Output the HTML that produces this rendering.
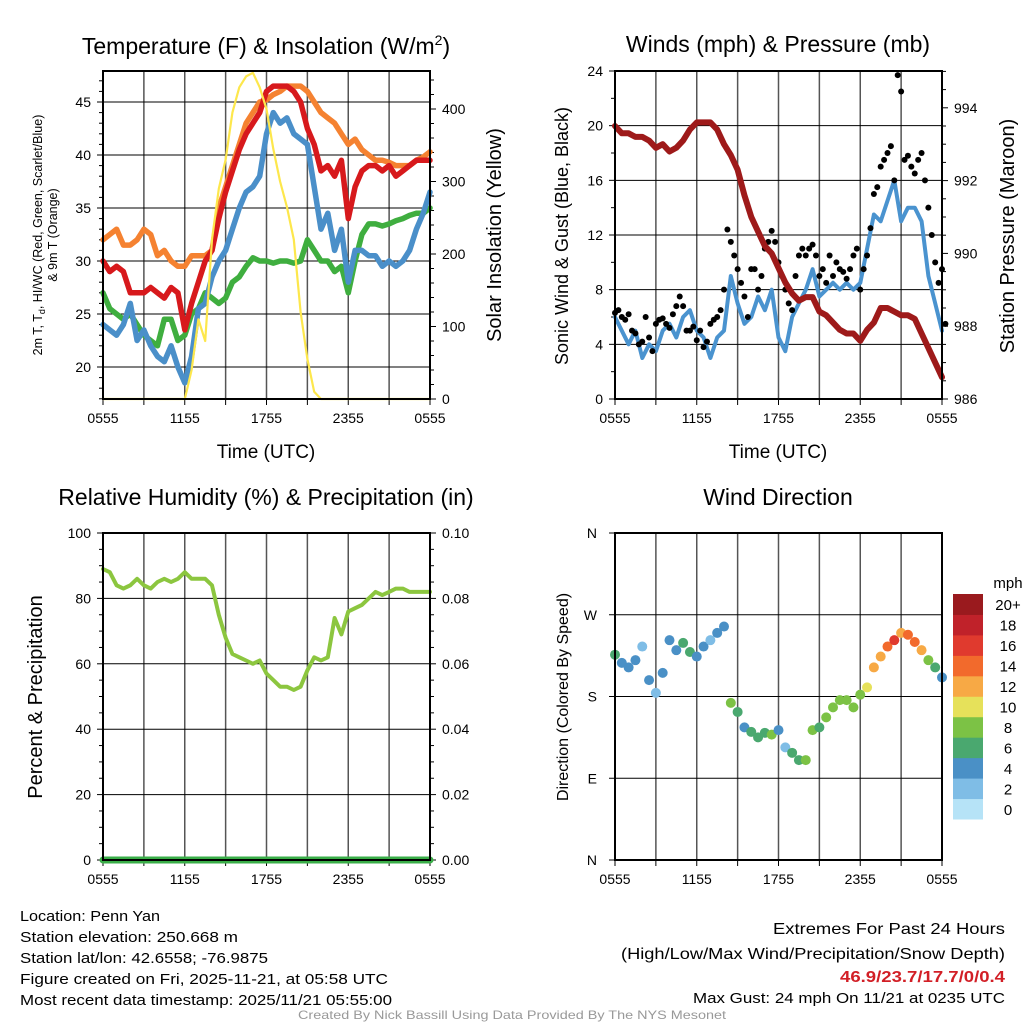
<!DOCTYPE html>
<html><head><meta charset="utf-8"><style>
html,body{margin:0;padding:0;background:#fff;}
svg{display:block;font-family:"Liberation Sans",sans-serif;}
</style></head><body>
<svg id="chart" width="1024" height="1024" viewBox="0 0 1024 1024" xmlns="http://www.w3.org/2000/svg">
<rect width="1024" height="1024" fill="#fff"/>
<g id="root"></g>
</svg>
<script>
// ---- data (half-hour resolution, t = 0..24 h from 0555 UTC) ----
const timeTicks = ["0555","1155","1755","2355","0555"];
const tempRed = [30,29,29.5,29,27,27,27,27.5,27,26.5,27.5,27,23.5,26,28,30,31,34,36.5,38.5,40.5,42,43,44,46,46.5,46.5,46.5,46,45,42.5,41,38.5,39,38,39.5,34,37,38.5,39,39,38.5,39,38,38.5,39,39.5,39.5,39.5];
const tempOrange = [32,32.5,33,31.5,31.5,32,33,32.5,30.5,31,30,29.5,29.5,30.5,30.5,30.5,31,35,37,39,41,43,44,45,45.2,45.7,46,46.5,46.5,46.5,46,45,44,43.5,43,42,41,41.5,40.5,40,39.5,39.5,39.3,39,39,39,39.5,39.8,40.3];
const tempBlue = [24,23.5,23,24,26,22.5,23.5,22,21,20.5,22,20,18.5,21,25.5,26,28.5,30,31,33,35,36.5,37,38,42,44,43,43.5,42,41.5,41,37,33,34.5,31,33,28,31,31,30.5,30.5,29.5,30,29.5,30,31,33,34.5,36.5];
const tempGreen = [27,25.5,25,24.5,25,24,23,22.5,22,24.5,24.5,22.5,23,25,25.5,27,26.5,26,26.5,28,28.5,29.5,30.3,30,30,29.8,30,30,29.8,30,32,31,30,30,29,29.5,27,30,32.5,33.5,33.5,33.3,33.5,33.8,34,34.3,34.5,34.5,35];
const solar = [0,0,0,0,0,0,0,0,0,0,0,0,0,40,110,80,220,290,330,395,430,445,450,430,400,345,300,265,220,120,55,10,0,0,0,0,0,0,0,0,0,0,0,0,0,0,0,0,0];
const pressure = [993.5,993.3,993.3,993.2,993.2,993.1,992.9,993.0,992.8,992.9,993.1,993.4,993.6,993.6,993.6,993.4,993.0,992.7,992.3,991.6,991.0,990.6,990.2,990.0,989.6,989.2,988.9,988.7,988.8,988.8,988.4,988.3,988.1,987.9,987.8,987.8,987.6,987.9,988.1,988.5,988.5,988.4,988.3,988.3,988.2,987.8,987.4,987.0,986.6];
const windSpeed = [6,5,4,5,3,4,3.5,5,5.5,4.5,6,6.5,5,4.5,3,4.5,5,9,7,5.5,6,7.5,6.5,8,4.5,3.5,6,7,8,9.5,7.5,8,8.5,8,8.5,8,8.5,11,13.5,13,14.5,16,13,14,14,13,9,7,5];
// gusts at quarter-hour resolution
const gusts = [6.3,6.5,6.0,5.8,6.2,5.0,4.8,4.0,4.2,6.0,4.5,3.5,5.5,5.8,5.9,5.5,5.2,6.2,6.8,7.5,6.8,5.0,5.0,5.3,4.3,5.0,3.8,4.2,5.5,5.8,6.0,6.5,8.0,12.4,11.5,10.5,9.5,8.5,7.5,6.0,9.5,9.5,8.0,9.0,11.0,11.5,12.3,11.5,10.0,9.0,8.0,7.0,6.5,9.0,10.5,11.0,10.5,11.0,11.3,10.5,9.0,9.5,8.5,10.5,9.0,10.0,9.5,9.3,8.8,9.5,10.5,11.0,8.0,9.5,10.5,12.5,15.0,15.5,17.0,17.5,18.0,18.5,16.0,23.7,22.5,17.5,17.8,17.0,16.5,17.5,18.0,16.0,14.0,12.0,10.0,8.5,9.5,5.5];
const rh = [89,88,84,83,84,86,84,83,85,86,85,86,88,86,86,86,84,75,68,63,62,61,60,61,57,55,53,53,52,53,58,62,61,62,74,69,76,77,78,80,82,81,82,83,83,82,82,82,82];
const precip = [0,0,0,0,0,0,0,0,0,0,0,0,0,0,0,0,0,0,0,0,0,0,0,0,0,0,0,0,0,0,0,0,0,0,0,0,0,0,0,0,0,0,0,0,0,0,0,0,0];
const windDir = [226,217,212,220,235,198,184,206,242,231,239,229,224,235,242,250,257,173,163,146,141,135,140,138,143,124,118,110,110,143,146,157,168,176,176,168,182,190,212,224,235,242,250,248,240,231,220,212,201];
const colorBins = ["#b6e3f7","#7fbde6","#4a90c6","#4aa86f","#7cc245","#e6e15a","#f7a945","#f26a2c","#e03a2e","#c0222a","#9a1a1e"];
const colorLabels = ["0","2","4","6","8","10","12","14","16","18","20+"];

const NS="http://www.w3.org/2000/svg";
const root=document.getElementById('root');
function el(tag,attrs,parent){const e=document.createElementNS(NS,tag);for(const k in attrs)e.setAttribute(k,attrs[k]);(parent||root).appendChild(e);return e;}
function txt(s,attrs,parent){const e=el('text',attrs,parent);e.textContent=s;return e;}

function makePanel(name,x0,y0,x1,y1){
  const g=el('g',{});
  
  
  const xs=t=>x0+(t/24)*(x1-x0);
  for(let i=1;i<8;i++){const x=xs(i*3);const l=el('line',{x1:x,y1:y0,x2:x,y2:y1,stroke:'#555','stroke-width':1.5},g);}
  for(let i=0;i<=8;i++){const x=xs(i*3);el('line',{x1:x,y1:y1,x2:x,y2:y1+6,stroke:'#000','stroke-width':1},g);}
  timeTicks.forEach((s,i)=>{const t=txt(s,{x:xs(i*6),y:y1+24,'font-size':14,'text-anchor':'middle'},g);});
  return {g,xs,x0,y0,x1,y1};
}
function hgrid(p,yv){const l=el('line',{x1:p.x0,y1:yv,x2:p.x1,y2:yv,stroke:'#000','stroke-width':1},p.g);}
function frame(p){const r=el('rect',{x:p.x0,y:p.y0,width:p.x1-p.x0,height:p.y1-p.y0,fill:'none',stroke:'#000','stroke-width':2},p.g);}
function leftAxis(p,ys,min,max,major,minor,fmt){
  for(let v=min;v<=max+1e-9;v+=minor){const y=ys(v);if(y<p.y0-0.5||y>p.y1+0.5)continue;const isM=Math.abs(v/major-Math.round(v/major))<1e-6;el('line',{x1:p.x0,y1:y,x2:p.x0-(isM?6:4),y2:y,stroke:'#000','stroke-width':1},p.g);}
  for(let v=Math.ceil(min/major)*major;v<=max+1e-9;v+=major){const y=ys(v);if(y<p.y0-1||y>p.y1+1)continue;const t=txt(fmt(v),{x:p.x0-12,y:y+5,'font-size':14,'text-anchor':'end'},p.g);}
}
function rightAxis(p,ys,min,max,major,minor,fmt){
  for(let v=min;v<=max+1e-9;v+=minor){const y=ys(v);if(y<p.y0-0.5||y>p.y1+0.5)continue;const isM=Math.abs(v/major-Math.round(v/major))<1e-6;el('line',{x1:p.x1,y1:y,x2:p.x1+(isM?6:4),y2:y,stroke:'#000','stroke-width':1},p.g);}
  for(let v=Math.ceil(min/major)*major;v<=max+1e-9;v+=major){const y=ys(v);if(y<p.y0-1||y>p.y1+1)continue;const t=txt(fmt(v),{x:p.x1+12,y:y+5,'font-size':14,'text-anchor':'start'},p.g);}
}
function line(p,arr,step,ys,color,w,name){
  const pts=arr.map((v,i)=>p.xs(i*step).toFixed(1)+','+ys(v).toFixed(1)).join(' ');
  const l=el('polyline',{points:pts,fill:'none',stroke:color,'stroke-width':w,'stroke-linejoin':'round','stroke-linecap':'round'},p.g);
  
  
  return l;
}
function vtitle(s,x,y,size,name){const t=txt(s,{x:0,y:0,'font-size':size,'text-anchor':'middle',transform:`translate(${x},${y}) rotate(-90)`});return t;}

// ===== Panel 1: Temperature =====
{
const p=makePanel('temperature-panel',103,71,430,399);
const yT=v=>367-(v-20)*10.6;
const yS=v=>399-v*0.725;
[20,25,30,35,40,45].forEach(v=>hgrid(p,yT(v)));
leftAxis(p,yT,17,47,5,1,v=>String(v));
rightAxis(p,yS,0,440,100,20,v=>String(v));
line(p,tempGreen,0.5,yT,'#3fae3f',5.5,'dewpoint-line');
line(p,tempBlue,0.5,yT,'#4a8fc9',5.5,'windchill-line');
line(p,tempOrange,0.5,yT,'#f58231',5.5,'9m-temp-line');
line(p,tempRed,0.5,yT,'#d7191c',5.5,'2m-temp-line');
line(p,solar,0.5,yS,'#fde74c',2.2,'solar-insolation-line');
frame(p);
const t=txt('',{x:266,y:54,'font-size':23,'text-anchor':'middle'});


t.innerHTML='Temperature (F) &amp; Insolation (W/m<tspan dy="-9" font-size="14">2</tspan><tspan dy="9">)</tspan>';
const xt=txt('Time (UTC)',{x:266,y:458,'font-size':19,'text-anchor':'middle'});


const y1=txt('',{x:0,y:0,'font-size':12.5,'text-anchor':'middle',transform:'translate(42,235) rotate(-90)'});


y1.innerHTML='2m T, T<tspan dy="3" font-size="9">d</tspan><tspan dy="-3">, HI/WC (Red, Green, Scarlet/Blue)</tspan>';
vtitle('& 9m T (Orange)',57,235,12.5,'temperature-y-axis-title-line2');
vtitle('Solar Insolation (Yellow)',501,235,20,'solar-y-axis-title');
}

// ===== Panel 2: Winds =====
{
const p=makePanel('winds-panel',615,71,942,399);
const yW=v=>399-v*(328/24);
const yP=v=>399-(v-986)*36.4;
[4,8,12,16,20].forEach(v=>hgrid(p,yW(v)));
leftAxis(p,yW,0,24,4,2,v=>String(v));
rightAxis(p,yP,986,995,2,0.5,v=>String(v));
line(p,windSpeed,0.5,yW,'#4a93cf',4,'sonic-wind-line');
gusts.forEach((v,i)=>{const c=el('circle',{cx:p.xs(i*0.25),cy:yW(v),r:3,fill:'#000'},p.g);});
line(p,pressure,0.5,yP,'#9e1a1a',6,'station-pressure-line');
frame(p);
const t=txt('Winds (mph) & Pressure (mb)',{x:778,y:52,'font-size':23,'text-anchor':'middle'});


const xt=txt('Time (UTC)',{x:778,y:458,'font-size':19,'text-anchor':'middle'});


vtitle('Sonic Wind & Gust (Blue, Black)',568,236,18,'wind-y-axis-title');
vtitle('Station Pressure (Maroon)',1014,236,20,'pressure-y-axis-title');
}

// ===== Panel 3: RH =====
{
const p=makePanel('humidity-panel',103,533,430,860);
const yR=v=>860-v*3.27;
const yPr=v=>860-v*3270;
[20,40,60,80].forEach(v=>hgrid(p,yR(v)));
leftAxis(p,yR,0,100,20,5,v=>String(v));
rightAxis(p,yPr,0,0.1,0.02,0.005,v=>v.toFixed(2));
line(p,rh,0.5,yR,'#8cc63f',4,'relative-humidity-line');
line(p,precip,0.5,yPr,'#3aae48',7,'precipitation-line');
frame(p);
const t=txt('Relative Humidity (%) & Precipitation (in)',{x:266,y:505,'font-size':23,'text-anchor':'middle'});


vtitle('Percent & Precipitation',42,697,20,'humidity-y-axis-title');
}

// ===== Panel 4: Wind direction =====
{
const p=makePanel('wind-direction-panel',615,533,942,860);
const yD=v=>860-v*(327/360);
[90,180,270].forEach(v=>hgrid(p,yD(v)));
const dl=["N","E","S","W","N"];
[0,90,180,270,360].forEach((v,i)=>{const y=yD(v);el('line',{x1:p.x0,y1:y,x2:p.x0-6,y2:y,stroke:'#000'},p.g);const t=txt(dl[i],{x:p.x0-18,y:y+5,'font-size':14,'text-anchor':'end'},p.g);});
windDir.forEach((d,i)=>{const b=Math.min(10,Math.floor(windSpeed[i]/2));const c=el('circle',{cx:p.xs(i*0.5),cy:yD(d),r:5,fill:colorBins[b]},p.g);});
frame(p);
const t=txt('Wind Direction',{x:778,y:505,'font-size':23,'text-anchor':'middle'});


vtitle('Direction (Colored By Speed)',568,697,16,'direction-y-axis-title');
const cb=el('g',{});


const segH=225/11;
colorBins.forEach((c,i)=>{const y=594+(10-i)*segH;const r=el('rect',{x:953,y:y,width:30,height:segH+0.5,fill:c},cb);
const t=txt(colorLabels[i],{x:1008,y:y+segH/2+6,'font-size':15,'text-anchor':'middle'},cb);});
const u=txt('mph',{x:1008,y:588,'font-size':15,'text-anchor':'middle'},cb);


}

// ===== Footer text =====
const leftLines=[["Location: Penn Yan",140],["Station elevation: 250.668 m",218],["Station lat/lon: 42.6558; -76.9875",248],["Figure created on Fri, 2025-11-21, at 05:58 UTC",368],["Most recent data timestamp: 2025/11/21 05:55:00",372]];
leftLines.forEach((l,i)=>{const t=txt(l[0],{x:20,y:921+i*21,'font-size':15,textLength:l[1],lengthAdjust:'spacingAndGlyphs'});});
const r1=txt('Extremes For Past 24 Hours',{x:1005,y:934,'font-size':16,'text-anchor':'end',textLength:232,lengthAdjust:'spacingAndGlyphs'});


const r2=txt('(High/Low/Max Wind/Precipitation/Snow Depth)',{x:1005,y:959,'font-size':16,'text-anchor':'end',textLength:384,lengthAdjust:'spacingAndGlyphs'});


const r3=txt('46.9/23.7/17.7/0/0.4',{x:1005,y:982,'font-size':16,'font-weight':'bold',fill:'#d21f26','text-anchor':'end',textLength:165,lengthAdjust:'spacingAndGlyphs'});


const r4=txt('Max Gust: 24 mph On 11/21 at 0235 UTC',{x:1005,y:1003,'font-size':15,'text-anchor':'end',textLength:312,lengthAdjust:'spacingAndGlyphs'});


const cr=txt('Created By Nick Bassill Using Data Provided By The NYS Mesonet',{x:512,y:1019,'font-size':12,fill:'#999','text-anchor':'middle',textLength:428,lengthAdjust:'spacingAndGlyphs'});


</script>
</body></html>
